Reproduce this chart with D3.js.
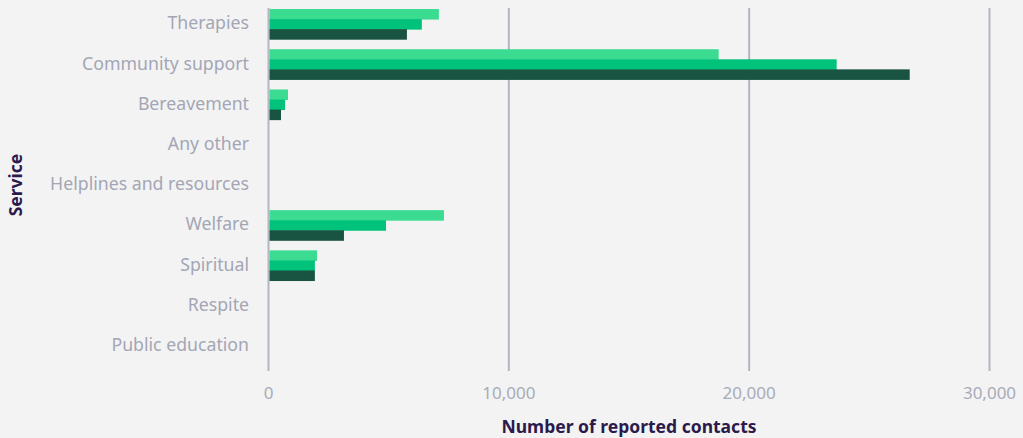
<!DOCTYPE html>
<html lang="en">
<head>
    <meta charset="UTF-8">
    <title>Reported contacts by service</title>
    <style>
        body { margin: 0; background: #f3f3f3; }
        svg { display: block; font-family: "Noto Sans", sans-serif; }
        .grid line { stroke: #b4b6c1; stroke-width: 2px; }
        .ylab text { fill: #a3a6b5; font-size: 17.7px; }
        .xlab text { fill: #a9abb9; font-size: 17px; }
        .title { fill: #2b1a4b; font-weight: bold; font-size: 17.5px; }
    </style>
    <script src="https://d3js.org/d3.v7.min.js"></script>
</head>
<body>
    <script>
        const services = ["Therapies", "Community support", "Bereavement", "Any other",
            "Helplines and resources", "Welfare", "Spiritual", "Respite", "Public education"];
        const seriesColours = ["#3bdc91", "#00c27a", "#195443"];
        const series1 = [7090, 18730, 810, 0, 0, 7300, 2020, 0, 0];
        const series2 = [6380, 23640, 690, 0, 0, 4890, 1930, 0, 0];
        const series3 = [5760, 26680, 520, 0, 0, 3140, 1930, 0, 0];
        const xTicks = [0, 10000, 20000, 30000];

        const width = 1023, height = 438;
        const svg = d3.select("body").append("svg")
            .attr("width", width).attr("height", height);

        const x = d3.scaleLinear().domain([0, 30000]).range([268.5, 989.5]);
        const y = d3.scaleBand().domain(services).range([4, 366])
            .paddingInner(0.25).paddingOuter(0.125);
        const inner = d3.scaleBand().domain([0, 1, 2]).range([0, y.bandwidth()]);

        // gridlines
        svg.append("g").attr("class", "grid")
            .selectAll("line").data(xTicks).enter().append("line")
            .attr("x1", d => x(d)).attr("x2", d => x(d))
            .attr("y1", 8).attr("y2", 371);

        // bars
        const allSeries = [series1, series2, series3];
        allSeries.forEach((vals, si) => {
            svg.append("g").selectAll("rect")
                .data(vals.map((v, i) => ({ name: services[i], v })))
                .enter().append("rect")
                .attr("x", x(0) + 1)
                .attr("y", d => y(d.name) + inner(si))
                .attr("width", d => Math.max(0, x(d.v) - x(0) - 1))
                .attr("height", inner.bandwidth() + 0.5)
                .attr("fill", seriesColours[si]);
        });

        // category labels
        svg.append("g").attr("class", "ylab")
            .selectAll("text").data(services).enter().append("text")
            .attr("x", 249).attr("y", d => y(d) + y.bandwidth() / 2 - 1)
            .attr("text-anchor", "end").attr("dy", "0.35em")
            .text(d => d);

        // tick labels
        svg.append("g").attr("class", "xlab")
            .selectAll("text").data(xTicks).enter().append("text")
            .attr("x", d => x(d)).attr("y", 399)
            .attr("text-anchor", "middle")
            .text(d => d3.format(",")(d));

        svg.append("text").attr("class", "title")
            .attr("x", (x(0) + x(30000)) / 2).attr("y", 433)
            .attr("text-anchor", "middle")
            .text("Number of reported contacts");

        svg.append("text").attr("class", "title")
            .attr("transform", `translate(22, ${185}) rotate(-90)`)
            .attr("text-anchor", "middle")
            .text("Service");
    </script>
</body>
</html>
